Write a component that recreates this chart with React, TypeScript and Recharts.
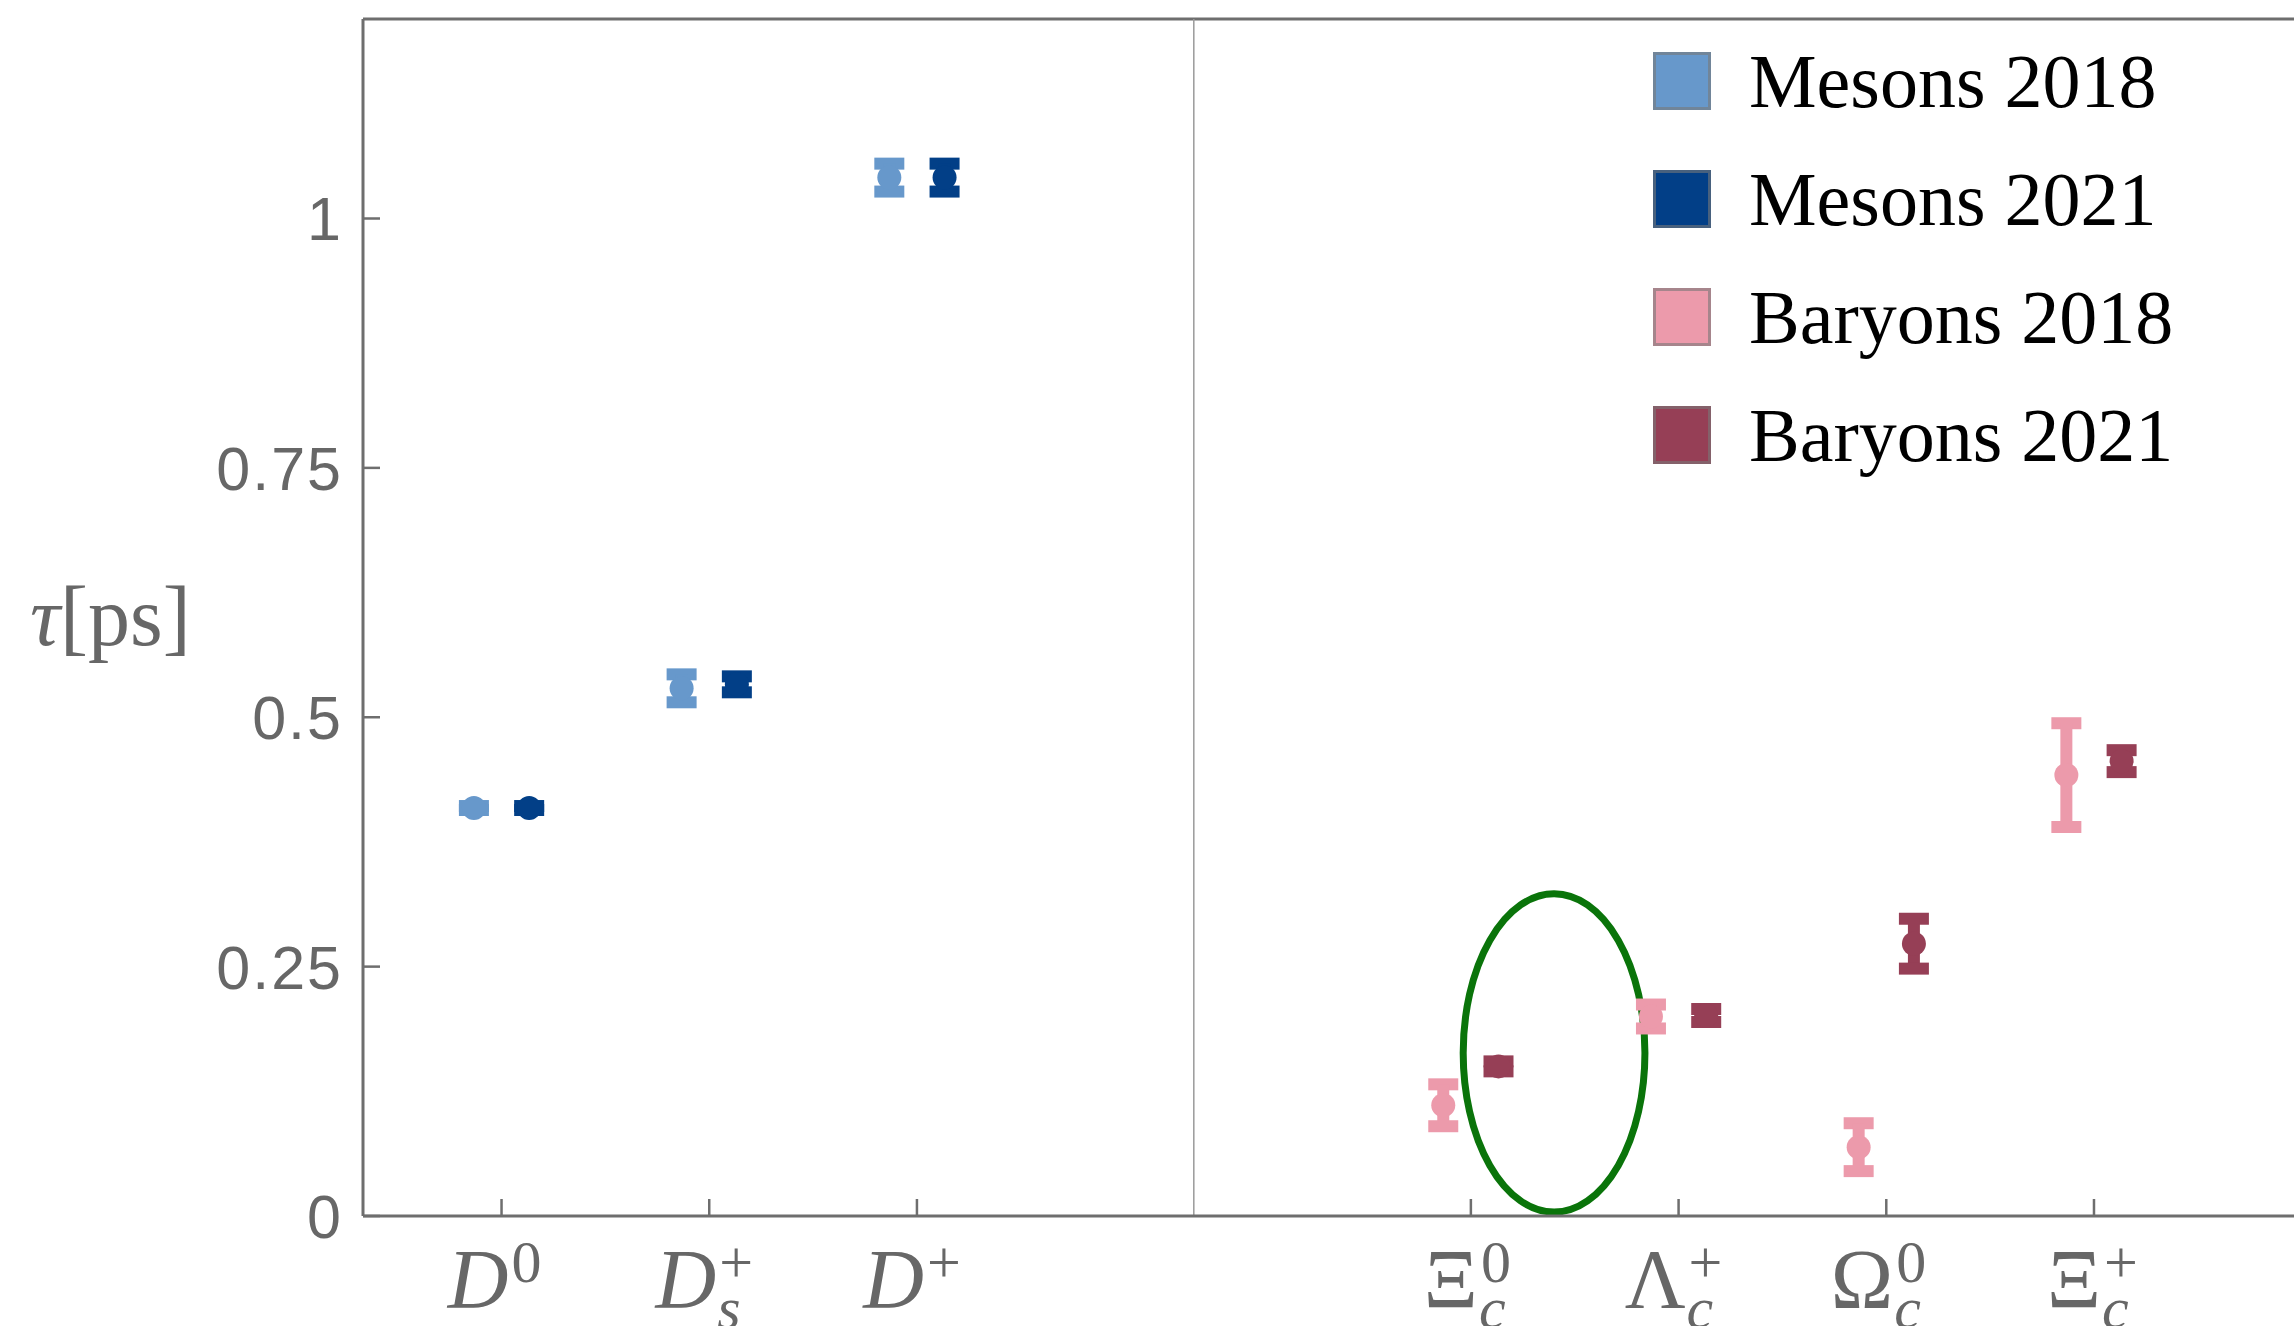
import React from 'react';
import {
  ScatterChart,
  Scatter,
  XAxis,
  YAxis,
  ErrorBar,
  ReferenceLine,
  ReferenceArea,
  Legend,
} from 'recharts';

// particle labels on the x axis: base symbol, superscript, subscript
const particleBase = ['D', 'D', 'D', 'Ξ', 'Λ', 'Ω', 'Ξ'];
const particleSup = ['0', '+', '+', '0', '+', '0', '+'];
const particleSub = ['', 's', '', 'c', 'c', 'c', 'c'];
const particleX = [0, 1, 2, 4.667, 5.667, 6.667, 7.667];

// lifetimes in ps (mesons: D0, Ds+, D+ ; baryons: Xi_c0, Lambda_c+, Omega_c0, Xi_c+)
const mesons2018 = [0.409, 0.529, 1.041];
const mesons2018Err = [0.002, 0.014, 0.014];
const mesons2021 = [0.409, 0.533, 1.041];
const mesons2021Err = [0.002, 0.008, 0.014];
const baryons2018 = [0.111, 0.2, 0.069, 0.442];
const baryons2018Err = [0.021, 0.012, 0.024, 0.052];
const baryons2021 = [0.15, 0.201, 0.273, 0.456];
const baryons2021Err = [0.005, 0.0065, 0.025, 0.011];

const yTicks = [0, 0.25, 0.5, 0.75, 1];
const seriesNames = ['Mesons 2018', 'Mesons 2021', 'Baryons 2018', 'Baryons 2021'];
const seriesColors = ['#6798cb', '#023f87', '#ec9aab', '#963f56'];

const dividerX = 3.333;
const highlight = { x1: 4.63, x2: 5.505, y1: 0.004, y2: 0.323 };

const OFFSET = 0.133;
const SERIF = "'Liberation Serif', 'Times New Roman', serif";
const SANS = "'Liberation Sans', Arial, sans-serif";
const AXIS = '#6e6e6e';
const TEXT = '#676767';

const toPoints = (vals: number[], errs: number[], start: number, shift: number) =>
  vals.map((y, i) => ({ x: particleX[start + i] + shift, y, err: errs[i] }));

const series = [
  toPoints(mesons2018, mesons2018Err, 0, -OFFSET),
  toPoints(mesons2021, mesons2021Err, 0, OFFSET),
  toPoints(baryons2018, baryons2018Err, 3, -OFFSET),
  toPoints(baryons2021, baryons2021Err, 3, OFFSET),
];

const XTick = ({ x, y, payload }: any) => {
  const i = particleX.indexOf(payload.value);
  if (i < 0) return null;
  const jx = x + 7;
  const latin = particleBase[i] === 'D';
  return (
    <g>
      <line x1={x} x2={x} y1={y} y2={y - 17} stroke={AXIS} strokeWidth={2.5} />
      <text x={jx} y={y + 92} textAnchor="end" fontSize={84} fontFamily={SERIF}
        fontStyle={latin ? 'italic' : 'normal'} fill={TEXT}>
        {particleBase[i]}
      </text>
      <text x={jx + 3} y={y + 66} fontSize={60} fontFamily={SERIF} fill={TEXT}>
        {particleSup[i]}
      </text>
      {particleSub[i] && (
        <text x={jx + 1} y={y + 112} fontSize={60} fontFamily={SERIF} fontStyle="italic" fill={TEXT}>
          {particleSub[i]}
        </text>
      )}
    </g>
  );
};

const YTick = ({ x, y, payload }: any) => (
  <g>
    <line x1={x} x2={x + 17} y1={y} y2={y} stroke={AXIS} strokeWidth={2.5} />
    <text x={x - 20} y={y} dy="0.36em" textAnchor="end" fontSize={61} letterSpacing={2}
      fontFamily={SANS} fill={TEXT}>
      {String(payload.value)}
    </text>
  </g>
);

const LegendBox = () => (
  <div style={{ fontFamily: SERIF }}>
    {seriesNames.map((name, i) => (
      <div key={name} style={{ height: 118, display: 'flex', alignItems: 'center' }}>
        <div
          style={{
            width: 58,
            height: 58,
            boxSizing: 'border-box',
            background: seriesColors[i],
            border: '3px solid rgba(120,120,120,0.6)',
            marginRight: 38,
          }}
        />
        <span style={{ fontSize: 76, color: '#000', lineHeight: 1, whiteSpace: 'nowrap' }}>{name}</span>
      </div>
    ))}
  </div>
);

export default function App() {
  return (
    <div style={{ position: 'absolute', left: 0, top: 0, background: '#fff' }}>
      <ScatterChart width={2294} height={1326} margin={{ top: 19, right: 0, bottom: 109, left: 362 }}>
        <XAxis
          type="number"
          dataKey="x"
          domain={[-0.667, 8.63]}
          ticks={particleX}
          tick={<XTick />}
          tickLine={false}
          tickSize={0}
          tickMargin={0}
          height={1}
          interval={0}
          axisLine={{ stroke: AXIS, strokeWidth: 3 }}
          allowDataOverflow
        />
        <YAxis
          type="number"
          dataKey="y"
          domain={[0, 1.2]}
          ticks={yTicks}
          tick={<YTick />}
          tickLine={false}
          tickSize={0}
          tickMargin={0}
          width={1}
          interval={0}
          axisLine={{ stroke: AXIS, strokeWidth: 3 }}
          allowDataOverflow
          label={{
            content: () => (
              <text x={30} y={645} fontSize={84} fontFamily={SERIF} fill={TEXT}>
                <tspan fontStyle="italic">τ</tspan>
                <tspan>[ps]</tspan>
              </text>
            ),
          }}
        />
        <ReferenceLine y={1.2} stroke={AXIS} strokeWidth={3} />
        <ReferenceLine x={dividerX} stroke="#9a9a9a" strokeWidth={1.5} />
        <ReferenceArea
          x1={highlight.x1}
          x2={highlight.x2}
          y1={highlight.y1}
          y2={highlight.y2}
          shape={(p: any) => (
            <ellipse
              cx={p.x + p.width / 2}
              cy={p.y + p.height / 2}
              rx={p.width / 2}
              ry={p.height / 2}
              fill="none"
              stroke="#0a740a"
              strokeWidth={7}
            />
          )}
        />
        {series.map((pts, i) => (
          <Scatter
            key={seriesNames[i]}
            name={seriesNames[i]}
            data={pts}
            fill={seriesColors[i]}
            legendType="square"
            isAnimationActive={false}
            shape={(p: any) => <circle cx={p.cx} cy={p.cy} r={12} fill={seriesColors[i]} />}
          >
            <ErrorBar
              dataKey="err"
              direction="y"
              width={15}
              strokeWidth={12}
              stroke={seriesColors[i]}
              isAnimationActive={false}
            />
          </Scatter>
        ))}
        <Legend
          layout="horizontal"
          align="center"
          verticalAlign="middle"
          content={<LegendBox />}
          wrapperStyle={{ position: 'absolute', left: 1653, top: 22, width: 640 }}
        />
      </ScatterChart>
    </div>
  );
}
